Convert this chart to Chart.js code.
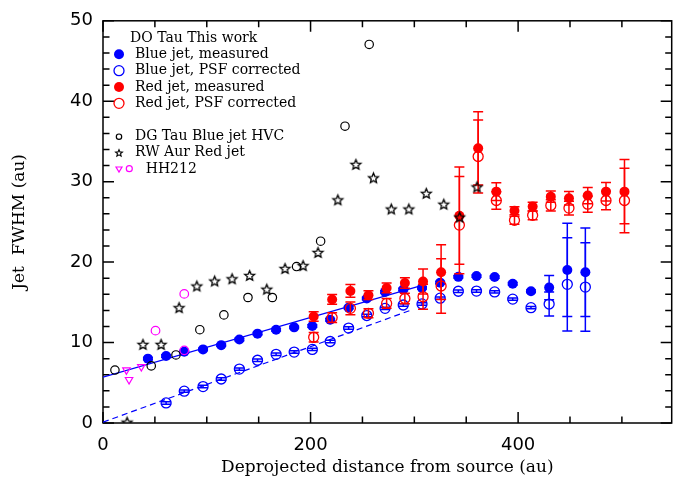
<!DOCTYPE html>
<html><head><meta charset="utf-8">
<script src="https://cdn.jsdelivr.net/npm/chart.js@4.4.0/dist/chart.umd.min.js"></script>
<style>html,body{margin:0;padding:0;background:#fff;}#wrap{width:678px;height:478px;}</style>
</head><body><div id="wrap"><canvas id="c" width="678" height="478"></canvas></div>
<script>
// ---- data ----
const blueX = [43.3, 60.8, 78.3, 96.4, 113.9, 131.4, 148.9, 166.8, 184.2, 201.7, 218.9, 236.7, 254.2, 271.8, 289.3, 307.4, 324.9, 342.4, 359.9, 377.4, 394.8, 412.4, 429.9, 447.4, 464.8];
const blueMeasured = [8.0, 8.33, 8.86, 9.15, 9.68, 10.38, 11.11, 11.6, 11.89, 12.05, 12.83, 14.34, 15.48, 16.3, 16.6, 16.8, 17.45, 18.17, 18.26, 18.14, 17.32, 16.38, 16.83, 19.03, 18.75];
const blueCorrected = [null, 2.49, 3.96, 4.53, 5.47, 6.70, 7.80, 8.54, 8.82, 9.15, 10.13, 11.8, 13.36, 14.25, 14.67, 14.8, 15.52, 16.38, 16.4, 16.3, 15.4, 14.34, 14.79, 17.24, 16.9];
const blueErr = [0.15, 0.15, 0.15, 0.15, 0.15, 0.15, 0.15, 0.15, 0.15, 0.15, 0.15, 0.15, 0.15, 0.15, 0.15, 0.15, 0.15, 0.15, 0.15, 0.15, 0.15, 0.15, 1.5, 5.8, 5.5];

const redX = [203, 220.8, 238.4, 255.8, 273.3, 290.9, 308.4, 325.8, 343.4, 361.5, 379, 396.5, 414, 431.5, 449, 467.1, 484.7, 502.5];
const redMeasured = [13.24, 15.36, 16.42, 15.89, 16.79, 17.4, 17.6, 18.75, 25.77, 34.15, 28.76, 26.39, 26.9, 28.14, 27.94, 28.27, 28.76, 28.76];
const redCorrected = [10.66, 13.1, 14.25, 13.64, 14.87, 15.48, 15.69, 17.03, 24.6, 33.13, 27.66, 25.2, 25.82, 27.05, 26.72, 27.2, 27.66, 27.66];
const redErr = [0.6, 0.6, 0.8, 0.55, 0.6, 0.65, 1.55, 3.4, 6.05, 4.55, 1.1, 0.5, 0.55, 0.7, 0.85, 1.0, 1.15, 4.0];

const dgTauX = [11.5, 46.5, 70.3, 93.3, 116.5, 139.7, 163.2, 186.5, 209.7, 233.2, 256.5];
const dgTauY = [6.58, 7.1, 8.46, 11.6, 13.44, 15.6, 15.6, 19.45, 22.6, 36.9, 47.06];

const rwAurX = [23.2, 38.5, 56, 73.3, 90.4, 107.6, 124.4, 141.3, 157.8, 175.4, 192.8, 207.2, 226.3, 243.7, 260.6, 277.8, 294.7, 311.5, 328.4, 343.7, 360.4];
const rwAurY = [0.1, 9.77, 9.77, 14.34, 17.03, 17.65, 17.93, 18.34, 16.63, 19.2, 19.57, 21.2, 27.74, 32.15, 30.48, 26.6, 26.6, 28.55, 27.2, 25.6, 29.35];

const hh212TriX = [22.6, 25.1, 36.9];
const hh212TriY = [6.58, 5.39, 6.99];
const hh212CircX = [50.6, 78.3, 78.3];
const hh212CircY = [11.48, 16.05, 9.03];

const fitMeasuredX = [0, 310];
const fitMeasuredY = [5.7, 17.2];
const fitCorrectedX = [0, 296];
const fitCorrectedY = [0.1, 14.0];

const xTickLabels = [0, 200, 400];
const xMinorTicks = [50, 100, 150, 250, 300, 350, 450, 500];
const yTickLabels = [0, 10, 20, 30, 40, 50];
const yMinorTicks = [2, 4, 6, 8, 12, 14, 16, 18, 22, 24, 26, 28, 32, 34, 36, 38, 42, 44, 46, 48];

const legendTitle = 'DO Tau This work';
const legendLabels = ['Blue jet, measured', 'Blue jet, PSF corrected', 'Red jet, measured', 'Red jet, PSF corrected', 'DG Tau Blue jet HVC', 'RW Aur Red jet', 'HH212'];

// ---- helpers ----
const pts = (xs, ys) => xs.map((x, i) => ({x: x, y: ys[i]})).filter(p => p.y !== null);
const BLUE = '#0000ff', RED = '#ff0000', MAG = '#ff00ff', BLACK = '#000000';

function starPath(ctx, cx, cy, R) {
  const r = R * 0.45;
  ctx.beginPath();
  for (let k = 0; k < 10; k++) {
    const a = -Math.PI / 2 + k * Math.PI / 5;
    const rr = k % 2 === 0 ? R : r;
    const px = cx + rr * Math.cos(a), py = cy + rr * Math.sin(a);
    if (k === 0) ctx.moveTo(px, py); else ctx.lineTo(px, py);
  }
  ctx.closePath();
}
function makeStar(R, lw) {
  const c = document.createElement('canvas');
  const s = Math.ceil(2 * R + 4);
  c.width = s; c.height = s;
  const g = c.getContext('2d');
  g.strokeStyle = BLACK; g.lineWidth = lw;
  starPath(g, s / 2, s / 2 + 0.5, R);
  g.stroke();
  return c;
}
const starImg = makeStar(5.2, 1.3);

const errorBarPlugin = {
  id: 'errbars',
  beforeDatasetDraw(chart, args) {
    const ds = chart.data.datasets[args.index];
    if (!ds.errorBars) return;
    const {ctx, chartArea: a, scales: {x, y}} = chart;
    ctx.save();
    ctx.beginPath(); ctx.rect(a.left, a.top, a.right - a.left, a.bottom - a.top); ctx.clip();
    ctx.strokeStyle = ds.borderColor; ctx.lineWidth = 1.5;
    ds.data.forEach((p, i) => {
      const e = ds.errorBars[ds.errIndex[i]];
      if (e == null) return;
      const px = x.getPixelForValue(p.x);
      const t = y.getPixelForValue(p.y + e), b = y.getPixelForValue(p.y - e);
      ctx.beginPath();
      ctx.moveTo(px, t); ctx.lineTo(px, b);
      ctx.moveTo(px - 5, t); ctx.lineTo(px + 5, t);
      ctx.moveTo(px - 5, b); ctx.lineTo(px + 5, b);
      ctx.stroke();
    });
    ctx.restore();
  }
};

const framePlugin = {
  id: 'frame',
  beforeDraw(chart) {
    const ctx = chart.ctx;
    ctx.save(); ctx.fillStyle = '#fff'; ctx.fillRect(0, 0, chart.width, chart.height); ctx.restore();
  },
  beforeDatasetsDraw(chart) {
    const {ctx, chartArea: a, scales: {x, y}} = chart;
    ctx.save();
    ctx.strokeStyle = BLACK; ctx.lineWidth = 1.5;
    ctx.strokeRect(a.left, a.top, a.right - a.left, a.bottom - a.top);
    ctx.beginPath();
    const xt = (v, L) => { const p = x.getPixelForValue(v); ctx.moveTo(p, a.bottom); ctx.lineTo(p, a.bottom - L); ctx.moveTo(p, a.top); ctx.lineTo(p, a.top + L); };
    const yt = (v, L) => { const p = y.getPixelForValue(v); ctx.moveTo(a.left, p); ctx.lineTo(a.left + L, p); ctx.moveTo(a.right, p); ctx.lineTo(a.right - L, p); };
    xTickLabels.forEach(v => xt(v, 11)); xMinorTicks.forEach(v => xt(v, 6.5));
    yTickLabels.forEach(v => yt(v, 11)); yMinorTicks.forEach(v => yt(v, 6.5));
    ctx.stroke();
    ctx.restore();
  },
  afterDraw(chart) {
    const ctx = chart.ctx;
    ctx.save();
    ctx.font = '14px "DejaVu Serif"';
    ctx.fillStyle = BLACK; ctx.textBaseline = 'middle'; ctx.textAlign = 'left';
    const rows = [54.3, 70.7, 87, 103.3];
    ctx.fillText(legendTitle, 130, 38.3);
    const sx = 119, tx = 135;
    [[BLUE, true], [BLUE, false], [RED, true], [RED, false]].forEach((s, i) => {
      ctx.beginPath(); ctx.arc(sx, rows[i], 5, 0, 2 * Math.PI);
      if (s[1]) { ctx.fillStyle = s[0]; ctx.fill(); } else { ctx.strokeStyle = s[0]; ctx.lineWidth = 1.3; ctx.stroke(); }
      ctx.fillStyle = BLACK; ctx.fillText(legendLabels[i], tx, rows[i]);
    });
    ctx.beginPath(); ctx.arc(sx, 136.7, 2.7, 0, 2 * Math.PI); ctx.strokeStyle = BLACK; ctx.lineWidth = 1.2; ctx.stroke();
    ctx.fillText(legendLabels[4], tx, 136.7);
    starPath(ctx, sx, 153.2, 3.6); ctx.lineWidth = 1.1; ctx.stroke();
    ctx.fillText(legendLabels[5], tx, 152.7);
    ctx.strokeStyle = MAG; ctx.lineWidth = 1.2;
    ctx.beginPath(); ctx.moveTo(sx - 3, 167); ctx.lineTo(sx + 3, 167); ctx.lineTo(sx, 172); ctx.closePath(); ctx.stroke();
    ctx.beginPath(); ctx.arc(129.3, 168.7, 3, 0, 2 * Math.PI); ctx.stroke();
    ctx.fillText(legendLabels[6], 145.7, 169);
    ctx.restore();
  }
};

const blueMData = pts(blueX, blueMeasured);
const blueCData = pts(blueX, blueCorrected);
const redMData = pts(redX, redMeasured);
const redCData = pts(redX, redCorrected);
const idxOf = (xs, ys) => xs.map((x, i) => i).filter(i => ys[i] !== null);

const datasets = [
  {label: 'DG Tau Blue jet HVC', data: pts(dgTauX, dgTauY), order: 0, showLine: false,
   pointStyle: 'circle', pointRadius: 4.2, borderColor: BLACK, backgroundColor: 'rgba(0,0,0,0)', pointBorderWidth: 1.2},
  {label: 'RW Aur Red jet', data: pts(rwAurX, rwAurY), order: 0, showLine: false,
   pointStyle: starImg, pointRadius: 5, borderColor: BLACK},
  {label: 'HH212', data: pts(hh212TriX, hh212TriY), order: 0, showLine: false,
   pointStyle: 'triangle', rotation: 180, pointRadius: 4.3, borderColor: MAG, backgroundColor: 'rgba(0,0,0,0)', pointBorderWidth: 1.2},
  {label: 'HH212 ', data: pts(hh212CircX, hh212CircY), order: 0, showLine: false,
   pointStyle: 'circle', pointRadius: 4.3, borderColor: MAG, backgroundColor: 'rgba(0,0,0,0)', pointBorderWidth: 1.2},
  {label: 'Red jet, PSF corrected', data: redCData, order: 1, showLine: false,
   pointStyle: 'circle', pointRadius: 5, borderColor: RED, backgroundColor: 'rgba(0,0,0,0)', pointBorderWidth: 1.3,
   errorBars: redErr, errIndex: idxOf(redX, redCorrected)},
  {label: 'Red jet, measured', data: redMData, order: 2, showLine: false,
   pointStyle: 'circle', pointRadius: 5, borderColor: RED, backgroundColor: RED, pointBorderWidth: 0,
   errorBars: redErr, errIndex: idxOf(redX, redMeasured)},
  {label: 'Blue jet, PSF corrected', data: blueCData, order: 3, showLine: false,
   pointStyle: 'circle', pointRadius: 5, borderColor: BLUE, backgroundColor: 'rgba(0,0,0,0)', pointBorderWidth: 1.3,
   errorBars: blueErr, errIndex: idxOf(blueX, blueCorrected)},
  {label: 'Blue jet, measured', data: blueMData, order: 4, showLine: false,
   pointStyle: 'circle', pointRadius: 5, borderColor: BLUE, backgroundColor: BLUE, pointBorderWidth: 0,
   errorBars: blueErr, errIndex: idxOf(blueX, blueMeasured)},
  {label: 'fit measured', data: pts(fitMeasuredX, fitMeasuredY), order: 5, showLine: true,
   borderColor: BLUE, borderWidth: 1.2, pointRadius: 0, fill: false},
  {label: 'fit corrected', data: pts(fitCorrectedX, fitCorrectedY), order: 5, showLine: true,
   borderColor: BLUE, borderWidth: 1.2, borderDash: [6, 4], pointRadius: 0, fill: false}
];

new Chart(document.getElementById('c'), {
  type: 'scatter',
  data: {datasets},
  options: {
    responsive: false, animation: false, devicePixelRatio: 1,
    layout: {padding: {top: 15, right: 1, left: 0, bottom: 0}},
    plugins: {legend: {display: false}, tooltip: {enabled: false}},
    scales: {
      x: {
        type: 'linear', min: 0, max: 548,
        afterBuildTicks: s => { s.ticks = xTickLabels.map(v => ({value: v})); },
        afterFit: s => { s.height = 55; },
        grid: {display: false, drawTicks: false},
        border: {display: false},
        ticks: {color: BLACK, font: {family: 'DejaVu Sans', size: 18}, padding: 12, maxRotation: 0},
        title: {display: true, text: 'Deprojected distance from source (au)', color: BLACK,
                font: {family: 'DejaVu Serif', size: 17, lineHeight: 1.0}, padding: {top: 0, bottom: 2}}
      },
      y: {
        type: 'linear', min: 0, max: 50,
        afterBuildTicks: s => { s.ticks = yTickLabels.map(v => ({value: v})); },
        afterFit: s => { s.width = 103; },
        grid: {display: false, drawTicks: false},
        border: {display: false},
        ticks: {color: BLACK, font: {family: 'DejaVu Sans', size: 18}, padding: 10},
        title: {display: true, text: 'Jet  FWHM (au)', color: BLACK,
                font: {family: 'DejaVu Serif', size: 17, lineHeight: 1.0}, padding: {top: 11, bottom: 0}}
      }
    }
  },
  plugins: [framePlugin, errorBarPlugin]
});
</script>
</body></html>
